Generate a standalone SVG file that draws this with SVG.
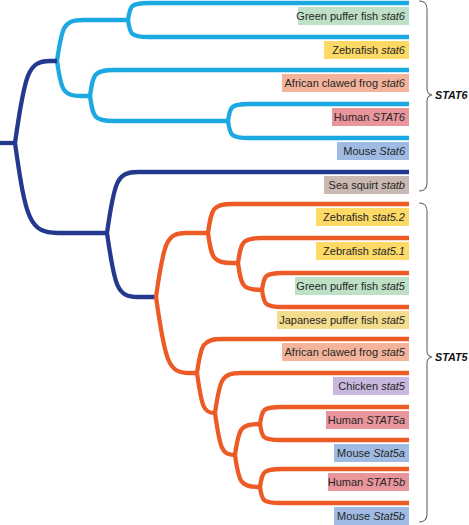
<svg xmlns="http://www.w3.org/2000/svg" width="469" height="525" viewBox="0 0 469 525">
<style>
.e{fill:none;stroke-width:4.3;stroke-linecap:butt}
.lb{stroke:#1CA9E2}
.db{stroke:#22398D}
.or{stroke:#EC5A26}
.t{font-family:"Liberation Sans",Arial,sans-serif;font-size:11px;fill:#262626;text-anchor:end}
.i{font-style:italic}
.br{fill:none;stroke:#666;stroke-width:1.1}
.bl{font-family:"Liberation Sans",Arial,sans-serif;font-size:10.8px;font-weight:bold;font-style:italic;fill:#111}
.g{fill:#BEE0C6}.y{fill:#FDD966}.s{fill:#F4B39B}.p{fill:#E8959B}.b{fill:#9FBBE3}.q{fill:#CAB9B2}.j{fill:#F3DC8C}.c{fill:#C9B7DF}
</style>
<rect width="469" height="525" fill="#fff"/>
<g id="connectors">
<path class="e lb" d="M128,20 C130,5.6 130.7,3 148.9,3 L409,3"/>
<path class="e lb" d="M128,20 C130,34.4 130.7,37 148.9,37 L409,37"/>
<path class="e lb" d="M228,121 C230,106.6 230.7,104 248.9,104 L409,104"/>
<path class="e lb" d="M228,121 C230,135.4 230.7,138 248.9,138 L409,138"/>
<path class="e lb" d="M90,96 C93.1,73.9 94.2,70 114.2,70 L409,70"/>
<path class="e lb" d="M90,96 C93,117.3 94,121 114,121 L228,121"/>
<path class="e lb" d="M57,61 C61.9,26.2 63.6,20 83.6,20 L128,20"/>
<path class="e lb" d="M57,61 C61.2,90.8 62.6,96 82.6,96 L90,96"/>
<path class="e db" d="M0,143 L15,143"/>
<path class="e db" d="M15,143 C24.8,73.3 28.1,61 50,61 L57,61"/>
<path class="e db" d="M15,143 C25.8,219.5 29.4,233 58,233 L107,233"/>
<path class="e db" d="M107,233 C114.3,181.2 116.8,172 138,172 L409,172"/>
<path class="e db" d="M107,233 C114.7,287.4 117.2,297 138,297 L156,297"/>
<path class="e or" d="M156,297 C163.7,242.6 166.2,233 186,233 L208,233"/>
<path class="e or" d="M156,297 C165.1,361.6 168.2,373 189,373 L197,373"/>
<path class="e or" d="M208,233 C211.5,208.4 212.6,204 232.6,204 L409,204"/>
<path class="e or" d="M208,233 C211.6,258.5 212.8,263 232.8,263 L238,263"/>
<path class="e or" d="M238,263 C241,241.8 242,238 262,238 L409,238"/>
<path class="e or" d="M238,263 C241.2,286 242.3,290 262,290"/>
<path class="e or" d="M262,290 C264,275.6 264.7,273 282.9,273 L409,273"/>
<path class="e or" d="M262,290 C264,304.4 264.7,307 282.9,307 L409,307"/>
<path class="e or" d="M197,373 C201.1,344.1 202.4,339 222.4,339 L409,339"/>
<path class="e or" d="M197,373 C201.8,407 203.4,413 215,413"/>
<path class="e or" d="M215,413 C219.8,379 221.4,373 241.4,373 L409,373"/>
<path class="e or" d="M215,413 C220,448.7 221.7,455 235,455"/>
<path class="e or" d="M235,455 C238.7,428.7 240,424 260,424"/>
<path class="e or" d="M235,455 C238.8,482.2 240.1,487 260,487"/>
<path class="e or" d="M260,424 C262,409.6 262.7,407 280.9,407 L409,407"/>
<path class="e or" d="M260,424 C261.9,437.6 262.6,440 280.2,440 L409,440"/>
<path class="e or" d="M260,487 C262.2,471.7 262.9,469 281.7,469 L409,469"/>
<path class="e or" d="M260,487 C261.9,500.6 262.6,503 280.2,503 L409,503"/>
</g>
<g id="leaf-green-puffer-stat6"><rect class="g" x="298" y="7" width="111" height="18"/><text class="t" x="405" y="20">Green puffer fish <tspan class="i">stat6</tspan></text></g>
<g id="leaf-zebrafish-stat6"><rect class="y" x="324" y="41" width="85" height="18"/><text class="t" x="405" y="54">Zebrafish <tspan class="i">stat6</tspan></text></g>
<g id="leaf-frog-stat6"><rect class="s" x="282" y="74" width="127" height="18"/><text class="t" x="405" y="87">African clawed frog <tspan class="i">stat6</tspan></text></g>
<g id="leaf-human-stat6"><rect class="p" x="332" y="108" width="77" height="18"/><text class="t" x="405" y="121">Human <tspan class="i">STAT6</tspan></text></g>
<g id="leaf-mouse-stat6"><rect class="b" x="337" y="142" width="72" height="18"/><text class="t" x="405" y="155">Mouse <tspan class="i">Stat6</tspan></text></g>
<g id="leaf-sea-squirt"><rect class="q" x="324" y="176" width="85" height="18"/><text class="t" x="405" y="189">Sea squirt <tspan class="i">statb</tspan></text></g>
<g id="leaf-zebrafish-stat52"><rect class="y" x="316" y="208" width="93" height="18"/><text class="t" x="405" y="221">Zebrafish <tspan class="i">stat5.2</tspan></text></g>
<g id="leaf-zebrafish-stat51"><rect class="y" x="316" y="242" width="93" height="18"/><text class="t" x="405" y="255">Zebrafish <tspan class="i">stat5.1</tspan></text></g>
<g id="leaf-green-puffer-stat5"><rect class="g" x="295" y="277" width="114" height="18"/><text class="t" x="405" y="290">Green puffer fish <tspan class="i">stat5</tspan></text></g>
<g id="leaf-japanese-puffer-stat5"><rect class="j" x="277" y="311" width="132" height="18"/><text class="t" x="405" y="324">Japanese puffer fish <tspan class="i">stat5</tspan></text></g>
<g id="leaf-frog-stat5"><rect class="s" x="282" y="343" width="127" height="18"/><text class="t" x="405" y="356">African clawed frog <tspan class="i">stat5</tspan></text></g>
<g id="leaf-chicken-stat5"><rect class="c" x="333" y="377" width="76" height="18"/><text class="t" x="405" y="390">Chicken <tspan class="i">stat5</tspan></text></g>
<g id="leaf-human-stat5a"><rect class="p" x="326" y="411" width="83" height="18"/><text class="t" x="405" y="424">Human <tspan class="i">STAT5a</tspan></text></g>
<g id="leaf-mouse-stat5a"><rect class="b" x="334" y="444" width="75" height="18"/><text class="t" x="405" y="457">Mouse <tspan class="i">Stat5a</tspan></text></g>
<g id="leaf-human-stat5b"><rect class="p" x="328" y="473" width="81" height="18"/><text class="t" x="405" y="486">Human <tspan class="i">STAT5b</tspan></text></g>
<g id="leaf-mouse-stat5b"><rect class="b" x="334" y="507" width="75" height="18"/><text class="t" x="405" y="520">Mouse <tspan class="i">Stat5b</tspan></text></g>
<g id="group-stat6"><path class="br" d="M419,1 Q427,1 427,9 L427,89 Q427,94 432,95 Q427,96 427,101 L427,183 Q427,191 419,191"/><text class="bl" x="435" y="99">STAT6</text></g>
<g id="group-stat5"><path class="br" d="M419,203 Q427,203 427,211 L427,351 Q427,356 432,357 Q427,358 427,363 L427,514 Q427,522 419,522"/><text class="bl" x="435" y="361">STAT5</text></g>
</svg>
